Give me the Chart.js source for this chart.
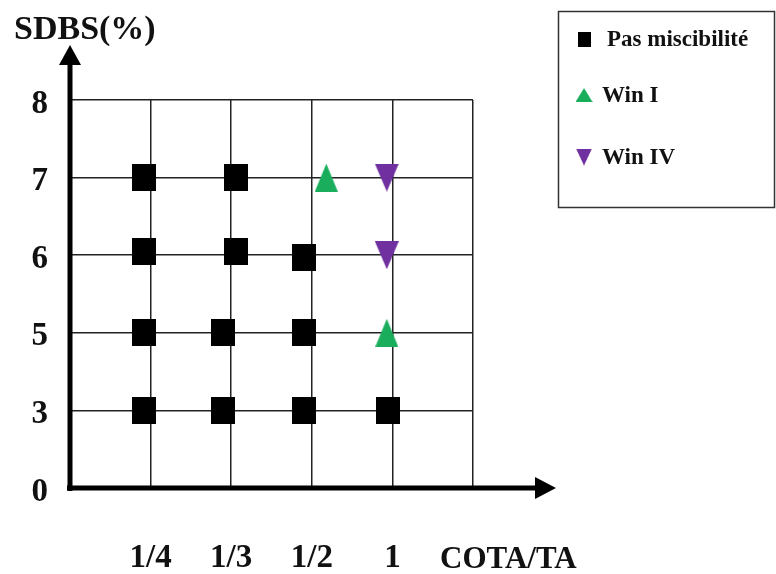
<!DOCTYPE html>
<html><head><meta charset="utf-8">
<script src="https://cdn.jsdelivr.net/npm/chart.js@4"></script>
<style>html,body{margin:0;padding:0;background:#fff;}#wrap{width:776px;height:574px;position:relative}</style>
</head><body><div id="wrap"><canvas id="c" width="776" height="574"></canvas></div>
<script>
// ---- data ----
const xTickLabels = ['', '1/4', '1/3', '1/2', '1', ''];
const yTickLabels = ['0', '3', '5', '6', '7', '8'];
const seriesNames = ['Pas miscibilité', 'Win I', 'Win IV'];
const pasX = [0.92, 0.92, 0.92, 0.92, 2.06, 2.06, 1.90, 1.90, 2.90, 2.90, 2.90, 3.94];
const pasY = [4, 3.05, 2, 1, 4, 3.05, 2, 1, 2.97, 2, 1, 1];
const winIX = [3.18, 3.93];
const winIY = [4, 2];
const winIVX = [3.93, 3.93];
const winIVY = [4, 3];
const xTitle = 'COTA/TA';
const yTitle = 'SDBS(%)';

// ---- styles ----
const SERIF = '"Liberation Serif", "Times New Roman", serif';
const GREEN = '#1aae5c';
const PURPLE = '#7030a0';

function makeMarker(kind, w, h, color) {
  const c = document.createElement('canvas');
  c.width = w; c.height = h;
  const g = c.getContext('2d');
  g.fillStyle = color;
  g.beginPath();
  if (kind === 'square') { g.rect(0, 0, w, h); }
  else if (kind === 'up') { g.moveTo(w / 2, 0); g.lineTo(w, h); g.lineTo(0, h); g.closePath(); }
  else { g.moveTo(0, 0); g.lineTo(w, 0); g.lineTo(w / 2, h); g.closePath(); }
  g.fill();
  return c;
}
const sqImg = makeMarker('square', 24, 27, '#000');
const upImg = makeMarker('up', 23, 28, GREEN);
const downImg = makeMarker('down', 24, 28, PURPLE);

const zip = (xs, ys) => xs.map((x, i) => ({ x: x, y: ys[i] }));

const decor = {
  id: 'decor',
  afterDraw(chart) {
    const ctx = chart.ctx;
    const xs = chart.scales.x, ys = chart.scales.y;
    const x0 = xs.getPixelForValue(0), y0 = ys.getPixelForValue(0);
    ctx.save();
    ctx.fillStyle = '#000';
    ctx.strokeStyle = '#000';
    ctx.lineWidth = 5;
    ctx.lineCap = 'butt';
    // y axis
    ctx.beginPath(); ctx.moveTo(x0, y0 + 3); ctx.lineTo(x0, 62); ctx.stroke();
    ctx.beginPath(); ctx.moveTo(x0, 45); ctx.lineTo(x0 + 11, 65); ctx.lineTo(x0 - 11, 65); ctx.closePath(); ctx.fill();
    // x axis
    ctx.beginPath(); ctx.moveTo(x0 - 3, y0); ctx.lineTo(538, y0); ctx.stroke();
    ctx.beginPath(); ctx.moveTo(556, y0); ctx.lineTo(535, y0 - 11); ctx.lineTo(535, y0 + 11); ctx.closePath(); ctx.fill();
    // titles
    ctx.textAlign = 'left';
    ctx.textBaseline = 'alphabetic';
    ctx.fillStyle = '#111';
    ctx.font = 'bold 34px ' + SERIF;
    ctx.fillText(yTitle, 14, 39);
    ctx.font = 'bold 31px ' + SERIF;
    ctx.fillText(xTitle, 440, 568);
    // legend
    ctx.lineWidth = 1.5;
    ctx.strokeStyle = '#333';
    ctx.strokeRect(558.5, 11.5, 216, 196);
    const ds = chart.data.datasets;
    const legendY = [39, 95, 157];
    const legendTextX = [607, 602, 602];
    const legendSize = [[13, 15], [17, 14], [16, 17]];
    ctx.font = 'bold 23px ' + SERIF;
    ds.forEach((d, i) => {
      const [w, h] = legendSize[i];
      ctx.drawImage(d.pointStyle, 584 - w / 2, legendY[i] - h / 2, w, h);
      ctx.textBaseline = 'middle';
      ctx.fillStyle = '#111';
      ctx.fillText(d.label, legendTextX[i], legendY[i] + 1);
    });
    ctx.restore();
  }
};

new Chart(document.getElementById('c'), {
  type: 'scatter',
  data: {
    datasets: [
      { label: seriesNames[0], data: zip(pasX, pasY), pointStyle: sqImg, backgroundColor: '#000', borderColor: '#000' },
      { label: seriesNames[1], data: zip(winIX, winIY), pointStyle: upImg, backgroundColor: GREEN, borderColor: GREEN },
      { label: seriesNames[2], data: zip(winIVX, winIVY), pointStyle: downImg, backgroundColor: PURPLE, borderColor: PURPLE }
    ]
  },
  options: {
    responsive: false,
    animation: false,
    events: [],
    layout: { padding: { top: 100, right: 303, left: 0, bottom: 0 } },
    plugins: { legend: { display: false }, tooltip: { enabled: false } },
    scales: {
      x: {
        type: 'linear', min: 0, max: 5,
        afterFit: s => { s.height = 86; },
        border: { display: false },
        grid: { color: '#222', lineWidth: 1.5, drawTicks: false },
        ticks: {
          stepSize: 1, autoSkip: false, maxRotation: 0, padding: 51,
          color: '#111', font: { family: SERIF, size: 33, weight: 'bold' },
          callback: v => xTickLabels[v]
        }
      },
      y: {
        type: 'linear', min: 0, max: 5,
        afterFit: s => { s.width = 70; },
        border: { display: false },
        grid: { color: '#222', lineWidth: 1.5, drawTicks: false },
        ticks: {
          stepSize: 1, autoSkip: false, padding: 22, labelOffset: 4,
          color: '#111', font: { family: SERIF, size: 33, weight: 'bold' },
          callback: v => yTickLabels[v]
        }
      }
    }
  },
  plugins: [decor]
});
</script></body></html>
